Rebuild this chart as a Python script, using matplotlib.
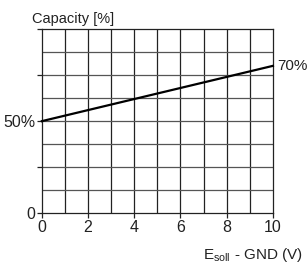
import matplotlib
matplotlib.use("Agg")
import matplotlib.pyplot as plt

plt.rcParams['font.family'] = ['Liberation Sans', 'DejaVu Sans']

# Data
voltage = [0, 10]
capacity = [50, 80]
x_ticks = [0, 2, 4, 6, 8, 10]
y_ticks = [0, 25, 50, 75, 100]
y_tick_labels = ["0", "", "50%", "", ""]
end_label = "70%"

fig = plt.figure(figsize=(3.08, 2.71), dpi=100)
ax = fig.add_axes([0.136, 0.213, 0.750, 0.680])

# grid
for xv in range(1, 10):
    ax.axvline(xv, color="#222222", lw=0.9, zorder=1)
for yv in [12.5, 25, 37.5, 50, 62.5, 75, 87.5]:
    ax.axhline(yv, color="#555555", lw=0.9, zorder=1)

ax.plot(voltage, capacity, color="black", lw=1.6, zorder=3, clip_on=False)

ax.set_xlim(0, 10)
ax.set_ylim(0, 100)
ax.set_xticks(x_ticks)
ax.set_yticks(y_ticks)
ax.set_yticklabels(y_tick_labels)
ax.tick_params(direction="out", length=3.5, width=0.9, labelsize=11.5, pad=1, colors="#222222")
for s in ax.spines.values():
    s.set_color("#222222")
    s.set_linewidth(0.9)

ax.text(10.2, capacity[-1], end_label, fontsize=11, ha="left", va="center", color="#222222")
fig.text(0.104, 0.93, "Capacity [%]", fontsize=10.5, ha="left", va="center", color="#222222")
fig.text(0.985, 0.06, r"E$_\mathregular{soll}$ - GND (V)", fontsize=11, ha="right",
         va="center", color="#222222")

fig.savefig("out.png", dpi=100)
